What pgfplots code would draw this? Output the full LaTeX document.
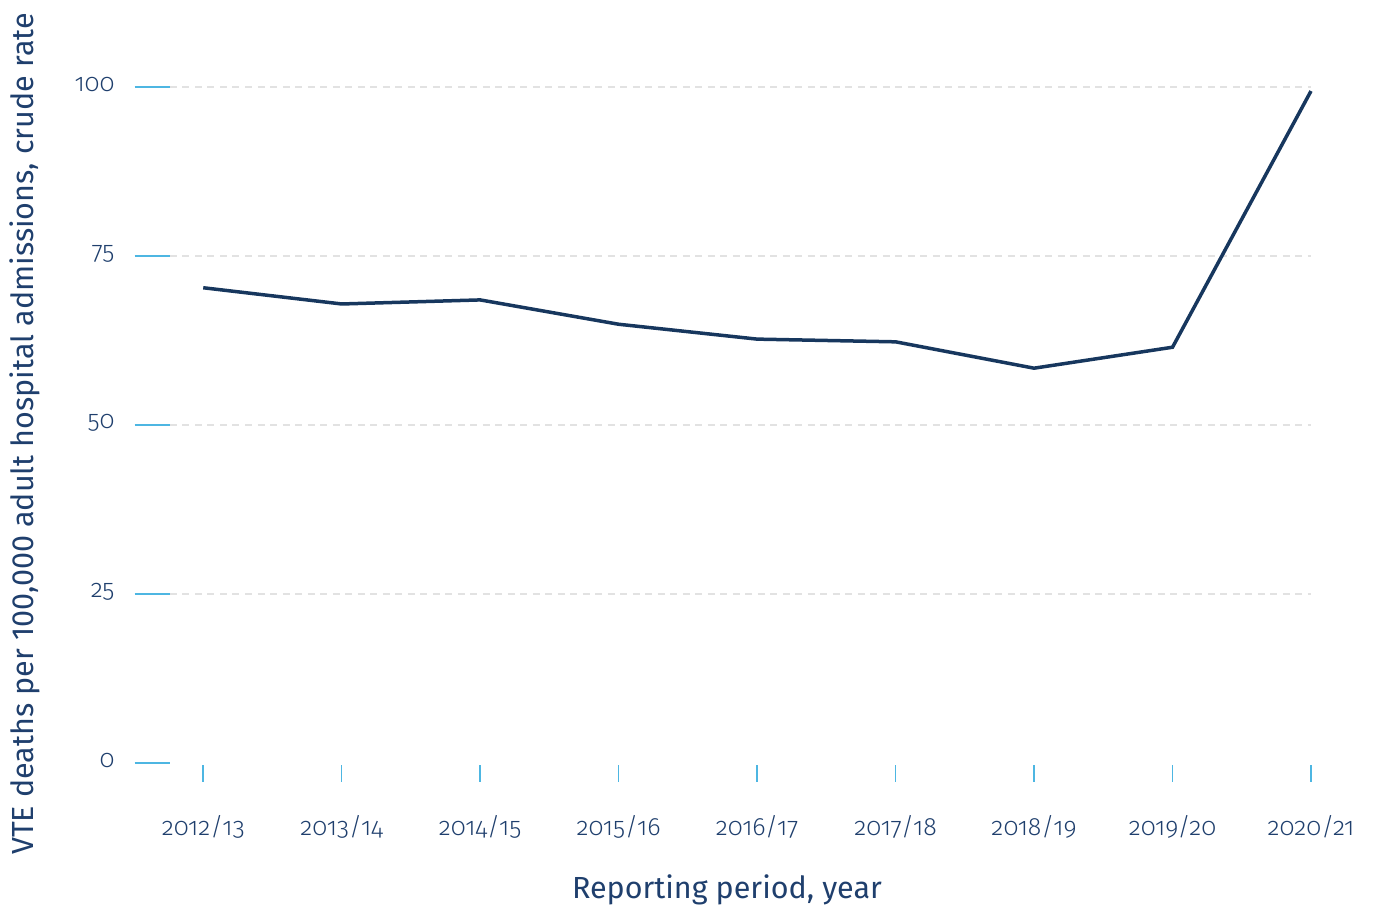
\documentclass[border=0pt]{standalone}
\usepackage{fontspec}
\setmainfont{Fira Sans}
\newfontfamily\ticklight{Fira Sans}[UprightFont=* Light, Numbers=OldStyle]
\usepackage{pgfplots}
\pgfplotsset{compat=1.18}
\definecolor{txtblue}{HTML}{1F3F6D}
\definecolor{lineblue}{HTML}{17375E}
\definecolor{tickblue}{HTML}{4DB6E2}
\definecolor{gridgray}{HTML}{E2E2E2}
\begin{document}
\begin{tikzpicture}
\useasboundingbox (-53.6pt,-57.2pt) rectangle (496pt,306pt);
\begin{axis}[
  at={(0,0)}, anchor=south west,
  scale only axis,
  width=487.42pt, height=284.72pt,
  xmin=-0.5, xmax=8.3, ymin=-0.3, ymax=105,
  axis line style={draw=none},
  clip=false,
  xtick pos=bottom, ytick pos=left,
  xtick={0,...,8},
  xticklabels={2012/13,2013/14,2014/15,2015/16,2016/17,2017/18,2018/19,2019/20,2020/21},
  ytick={0,25,50,75,100},
  tick align=outside,
  major tick length=6.8pt,
  xtick style={color=tickblue, line width=0.6pt},
  ytick style={draw=none},
  /pgf/number format/assume math mode=true,
  ticklabel style={font=\ticklight\fontsize{10}{12}\selectfont, text=txtblue},
  xticklabel style={anchor=north, yshift=-10pt},
  yticklabel style={anchor=east, inner sep=0pt, xshift=-0.8pt, yshift=1pt},
  xlabel={Reporting period, year},
  ylabel={VTE deaths per 100,000 adult hospital admissions, crude rate},
  label style={font=\fontsize{12.2}{14}\selectfont, text=txtblue},
  xlabel style={at={(axis description cs:0.4866,-0.1756)}, anchor=center},
  ylabel style={at={(axis description cs:-0.0894,0.465)}, anchor=center},
]
\draw[gridgray, line width=0.6pt, dash pattern=on 2.8pt off 2.2pt] (axis cs:-0.24,25) -- (axis cs:8,25);
\draw[gridgray, line width=0.6pt, dash pattern=on 2.8pt off 2.2pt] (axis cs:-0.24,50) -- (axis cs:8,50);
\draw[gridgray, line width=0.6pt, dash pattern=on 2.8pt off 2.2pt] (axis cs:-0.24,75) -- (axis cs:8,75);
\draw[gridgray, line width=0.6pt, dash pattern=on 2.8pt off 2.2pt] (axis cs:-0.24,100) -- (axis cs:8,100);
\draw[tickblue, line width=0.5pt] (axis cs:-0.495,0) -- (axis cs:-0.24,0);
\draw[tickblue, line width=0.5pt] (axis cs:-0.495,25) -- (axis cs:-0.24,25);
\draw[tickblue, line width=0.5pt] (axis cs:-0.495,50) -- (axis cs:-0.24,50);
\draw[tickblue, line width=0.5pt] (axis cs:-0.495,75) -- (axis cs:-0.24,75);
\draw[tickblue, line width=0.5pt] (axis cs:-0.495,100) -- (axis cs:-0.24,100);
\addplot[lineblue, line width=1.4pt, mark=none] coordinates {
  (0,70.3) (1,67.9) (2,68.5) (3,64.9) (4,62.7) (5,62.3) (6,58.4) (7,61.5) (8,99.4)
};
\end{axis}
\end{tikzpicture}
\end{document}
